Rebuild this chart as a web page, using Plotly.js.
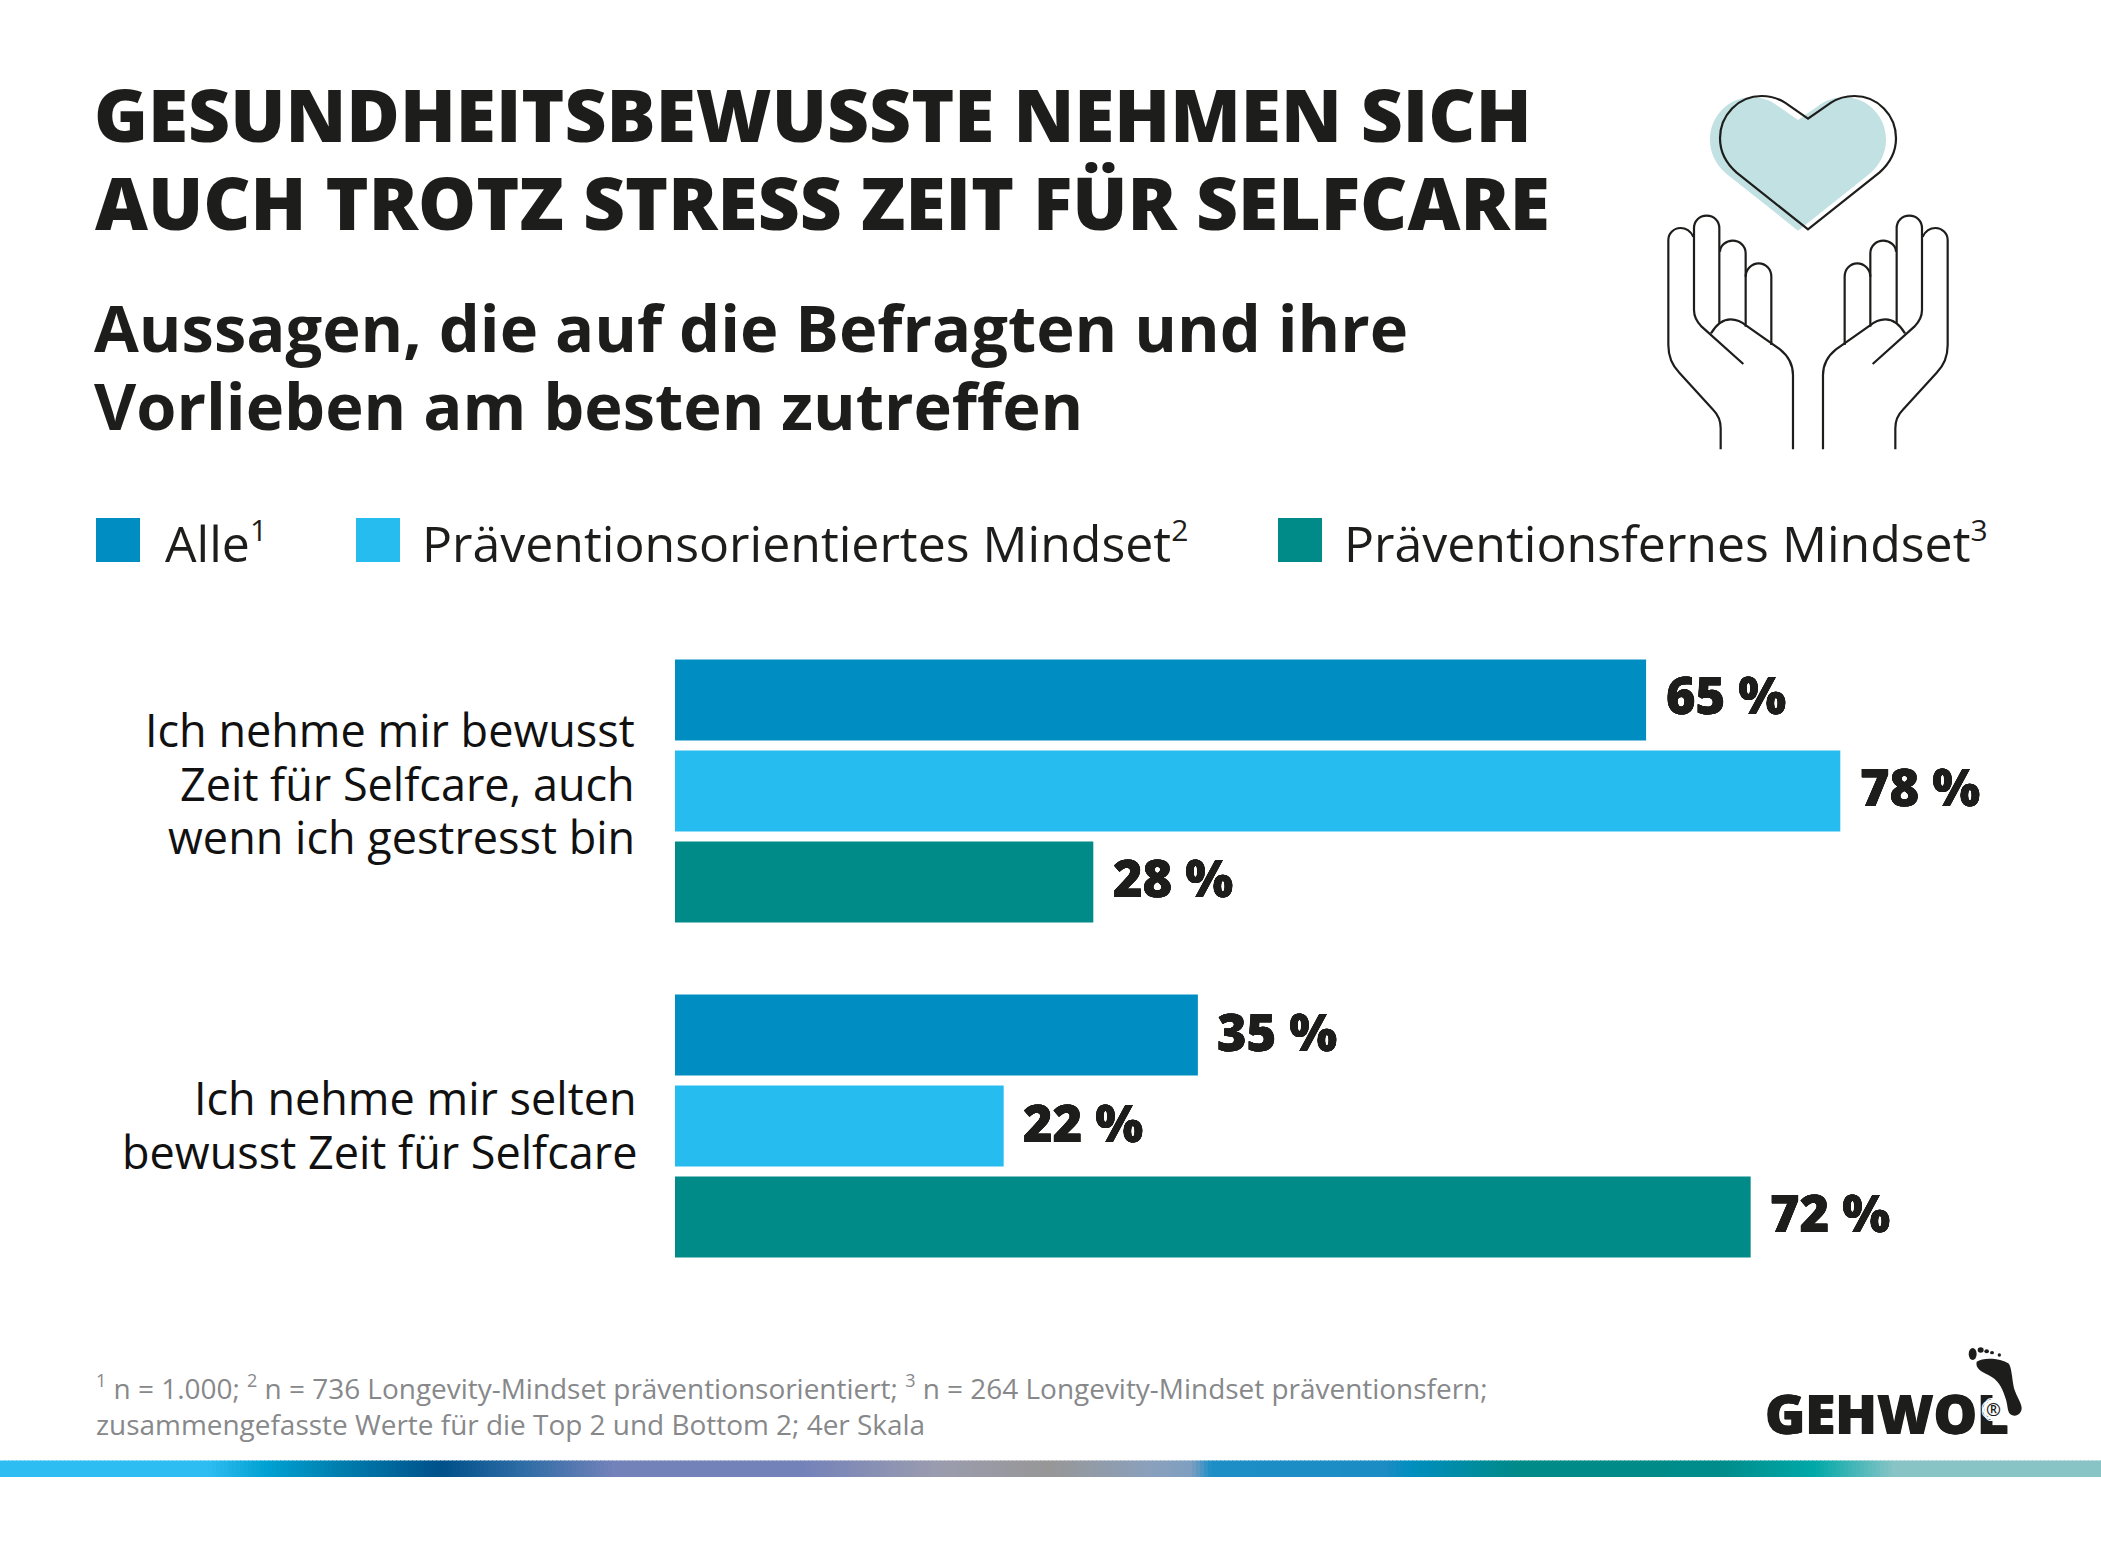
<!DOCTYPE html>
<html><head><meta charset="utf-8">
<script src="https://cdn.plot.ly/plotly-3.0.1.min.js"></script>
<style>html,body{margin:0;padding:0;background:#fff}</style></head>
<body><div id="chart" style="width:2101px;height:1551px"></div>
<script>
const categories = ["Ich nehme mir bewusst<br>Zeit für Selfcare, auch<br>wenn ich gestresst bin", "Ich nehme mir selten<br>bewusst Zeit für Selfcare"];
const seriesNames = ["Alle", "Präventionsorientiertes Mindset", "Präventionsfernes Mindset"];
const alle = [65, 35];
const orientiert = [78, 22];
const fern = [28, 72];
const colours = ["#008EC2", "#27BCEF", "#008A88"];
const gradientStops = [[0,"#2DBDF2"],[208,"#2DBDF2"],[268,"#00A0D2"],[335,"#0080B0"],[442,"#00508A"],[522,"#2E6CA5"],[616,"#7482BA"],[803,"#7482BA"],[937,"#9A9CAE"],[1050,"#979797"],[1150,"#8AA0BC"],[1191,"#7F9FC0"],[1211,"#1E8EC7"],[1385,"#1C8CC4"],[1412,"#008EBE"],[1519,"#008A88"],[1720,"#008C8A"],[1814,"#00A8A8"],[1894,"#88C4C6"],[2101,"#88C4C6"]];
const W = 2101, H = 1551, INK = "#1D1D1B", FONT = "'Open Sans', sans-serif";
const px = x => x / W, py = y => 1 - y / H;
const sup = (n,size) => `<sup><span style="font-size:${size}px">${n}</span></sup>`;

function hexRgb(h){return [1,3,5].map(i=>parseInt(h.substr(i,2),16));}
function gradAt(t){
  for(let i=1;i<gradientStops.length;i++){
    const [a,ca]=gradientStops[i-1],[b,cb]=gradientStops[i];
    if(t<=b){const f=(t-a)/(b-a),A=hexRgb(ca),B=hexRgb(cb);
      return `rgb(${A.map((v,k)=>Math.round(v+(B[k]-v)*f)).join(",")})`;}
  }
  return gradientStops[gradientStops.length-1][1];
}
function mapPath(d, fn){
  return d.replace(/(-?\d+(?:\.\d+)?),(-?\d+(?:\.\d+)?)/g,(m,a,b)=>{const [x,y]=fn(+a,+b);return px(x).toFixed(5)+","+py(y).toFixed(5);});
}
const shapes = [];
function addPath(d, fn, opts){ shapes.push(Object.assign({type:"path",xref:"paper",yref:"paper",path:mapPath(d,fn),layer:"above"},opts)); }

const stepG = 4;
for(let x=0;x<W;x+=stepG){
  shapes.push({type:"rect",xref:"paper",yref:"paper",x0:px(x),x1:px(Math.min(W,x+stepG+1)),y0:py(1460.5),y1:py(1477),fillcolor:gradAt(x+2),line:{width:0},layer:"below"});
}
const icon = (X,Y)=>[1600+X/3,70+Y/3];
const iconFill = (X,Y)=>[1600+(X-30)/3,70+(Y+4)/3];
const heart = "M624,146 L555,98 C530,82 505,78 485,78 C415,78 360,135 360,205 C360,245 378,280 410,308 L624,478 L838,308 C870,280 888,245 888,205 C888,135 833,78 763,78 C743,78 718,82 693,98 Z";
addPath(heart, iconFill, {fillcolor:"#C2E1E2",line:{width:0}});
addPath(heart, icon, {line:{color:INK,width:2.2}});
const hand = [
 "M362,1138 L362,1075 C362,1050 355,1035 340,1020 L238,908 C215,885 205,855 205,825 L205,510 C205,490 222,474 241,474 C258,474 272,484 280,500",
 "M430,882 L305,770 C290,755 282,740 282,720 L282,475 C282,453 298,437 320,437 C342,437 358,453 358,475 L358,762",
 "M360,545 C360,527 378,512 398,512 C418,512 437,527 437,550 L437,770",
 "M437,620 C437,598 455,580 476,580 C498,580 514,598 514,620 L514,825",
 "M333,790 C348,765 365,748 392,748 C410,748 425,755 440,768 L540,838 C565,858 579,885 579,915 L579,1138"];
hand.forEach(d=>{
  addPath(d, icon, {line:{color:INK,width:2.2}});
  addPath(d, (X,Y)=>icon(1248-X,Y), {line:{color:INK,width:2.2}});
});
[[96,140],[356,400],[1278,1322]].forEach(([a,b],i)=>{
  shapes.push({type:"rect",xref:"paper",yref:"paper",x0:px(a),x1:px(b),y0:py(518),y1:py(562),fillcolor:colours[i],line:{width:0}});
});
const logo = (X,Y)=>[1700+X/3,1330+Y/3];
addPath("M830,95 C850,80 905,85 925,100 C935,110 935,140 942,175 C950,200 965,220 965,235 C965,250 950,262 935,255 C920,248 925,225 915,200 C905,170 895,150 865,135 C845,125 825,115 830,95 Z", logo, {fillcolor:INK,line:{width:0}});
[[818,72,12,18],[842,60,9,8],[860,64,7,6],[876,68,6,5],[898,75,5,5]].forEach(([X,Y,a,b])=>{
  const [x0,y0]=logo(X-a,Y-b),[x1,y1]=logo(X+a,Y+b);
  shapes.push({type:"circle",xref:"paper",yref:"paper",x0:px(x0),x1:px(x1),y0:py(y0),y1:py(y1),fillcolor:INK,line:{width:0}});
});

function note(text,x,y,size,opts){
  return Object.assign({text,xref:"paper",yref:"paper",x:px(x),y:py(y),xanchor:"left",yanchor:"middle",showarrow:false,align:"left",borderpad:0,
    font:{family:FONT,size,color:INK}},opts||{});
}
const GREY = "#87888A";
const HEAVY = "0.3px 0 0 #1D1D1B, -0.3px 0 0 #1D1D1B, 0 0.2px 0 #1D1D1B, 0 -0.2px 0 #1D1D1B";
// white halo so the ® stays readable where it sits on the L of the logo
const HALO = [[2,0],[-2,0],[0,2],[0,-2],[4,0],[-4,0],[0,4],[0,-4],[3,3],[-3,3],[3,-3],[-3,-3],[5,2],[-5,2],[5,-2],[-5,-2],[2,5],[-2,5],[2,-5],[-2,-5]]
  .map(([a,b])=>`${a}px ${b}px 0 #fff`).join(", ");
const annotations = [
 note("AUCH TROTZ STRESS ZEIT FÜR SELFCARE",94,201,73,{font:{family:FONT,size:73,color:INK,weight:800}}),
 note("Aussagen, die auf die Befragten und ihre",93,327,65,{font:{family:FONT,size:65,color:INK,weight:700}}),
 note("Vorlieben am besten zutreffen",93,405,65,{font:{family:FONT,size:65,color:INK,weight:700}}),
 note(seriesNames[0]+sup(1,30),164,542.5,50),
 note(seriesNames[1]+sup(2,30),421,542.5,50),
 note(seriesNames[2]+sup(3,30),1343,542.5,50),
 note(`${sup(1,18)} n = 1.000; ${sup(2,18)} n = 736 Longevity-Mindset präventionsorientiert; ${sup(3,18)} n = 264 Longevity-Mindset präventionsfern;<br>zusammengefasste Werte für die Top 2 und Bottom 2; 4er Skala`,95,1405,27.95,{font:{family:FONT,size:27.95,color:GREY}}),
 note("GEHWOL",1764,1413,54.5,{font:{family:FONT,size:54.5,color:INK,weight:800,shadow:"0.6px 0 0 #1D1D1B, -0.6px 0 0 #1D1D1B"}}),
 note("®",1985,1409,18,{font:{family:FONT,size:18,color:INK,weight:600,shadow:HALO}})
];
// category labels: one annotation per line, right-aligned at the axis side, tied to the category position
const labelNudge = [[39.5,7.7],[37.5,1.5]];
categories.forEach((c,ci)=>{
  const lines=c.split("<br>");
  lines.forEach((l,li)=>{
    annotations.push({text:l,xref:"x",yref:"y",x:0,y:ci,xanchor:"right",yanchor:"middle",align:"right",showarrow:false,borderpad:0,
      xshift:-labelNudge[ci][0],yshift:(labelNudge[ci][1]-(li-(lines.length-1)/2)*53.6),font:{family:FONT,size:45,color:"#111"}});
  });
});
// value labels tied to each bar's value and slot in its group
[alle,orientiert,fern].forEach((vals,si)=>{
  vals.forEach((v,ci)=>{
    annotations.push({text:v+" %",xref:"x",yref:"y",x:v,y:ci+(si-1)*0.2716,xanchor:"left",yanchor:"middle",showarrow:false,borderpad:0,
      xshift:18.5,yshift:(si===0&&ci===0)?6:4,font:{family:FONT,size:50.5,color:INK,weight:800,shadow:HEAVY}});
  });
});
const bar = (name,x,i)=>({type:"bar",orientation:"h",name,y:categories,x,marker:{color:colours[i],line:{width:0}},cliponaxis:false,hoverinfo:"skip"});
Plotly.newPlot("chart",[bar(seriesNames[0],alle,0),bar(seriesNames[1],orientiert,1),bar(seriesNames[2],fern,2)],{
  width:W,height:H,paper_bgcolor:"#fff",plot_bgcolor:"#fff",showlegend:false,
  margin:{l:0,r:0,t:0,b:0,pad:0},
  title:{text:"GESUNDHEITSBEWUSSTE NEHMEN SICH",x:px(94),xanchor:"left",y:py(116),yanchor:"middle",font:{family:FONT,size:73,color:INK,weight:800}},
  barmode:"group",bargap:0.185,bargroupgap:0.11,
  xaxis:{domain:[px(675),1],range:[0,95.45],visible:false,fixedrange:true},
  yaxis:{domain:[py(1293.5),py(623.5)],autorange:"reversed",type:"category",showline:false,showgrid:false,zeroline:false,ticks:"",showticklabels:false,fixedrange:true},
  shapes,annotations
},{displayModeBar:false,staticPlot:true});
</script></body></html>
